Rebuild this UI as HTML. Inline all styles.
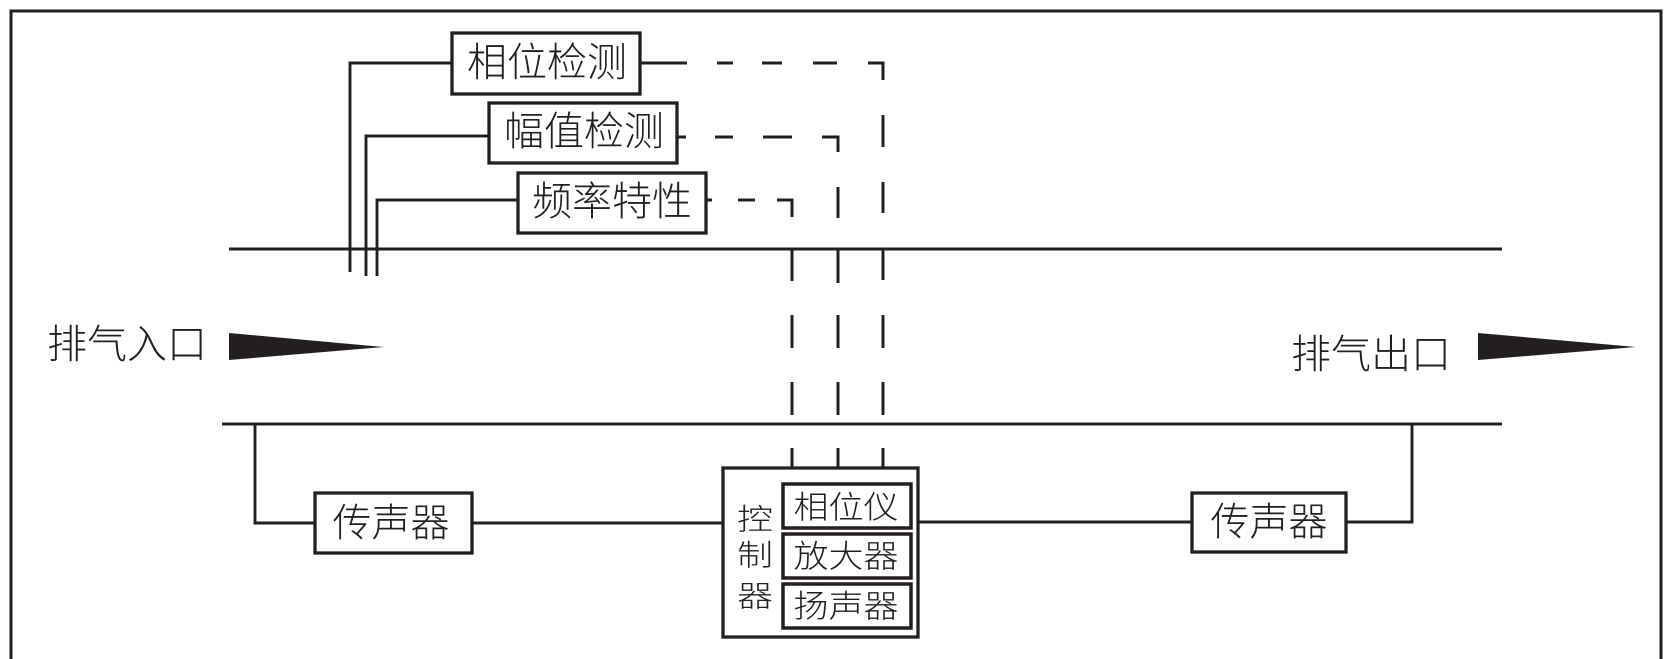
<!DOCTYPE html>
<html><head><meta charset="utf-8"><style>
html,body{margin:0;padding:0;background:#fff;}
svg{display:block;}
text{font-family:"Liberation Sans","Noto Sans CJK SC",sans-serif;font-weight:300;fill:#231f20;}
</style></head><body>
<svg width="1671" height="659" viewBox="0 0 1671 659" xmlns="http://www.w3.org/2000/svg">
<rect width="1671" height="659" fill="#fff"/>
<g stroke="#231f20" fill="none" stroke-linecap="butt">
<!-- frame -->
<path d="M11,670 V11 H1661 V670" stroke-width="3"/>
<!-- pipe -->
<line x1="229" y1="249" x2="1502" y2="249" stroke-width="2.9"/>
<line x1="222" y1="424" x2="1502" y2="424" stroke-width="2.9"/>
<!-- left solid connectors -->
<path d="M350,272 V63 H452" stroke-width="2.9"/>
<path d="M366,276 V136 H489" stroke-width="2.9"/>
<path d="M377,276 V200 H518" stroke-width="2.9"/>
<!-- top boxes -->
<rect x="452" y="33" width="188" height="61" stroke-width="3.3"/>
<rect x="489" y="103" width="188" height="60" stroke-width="3.3"/>
<rect x="518" y="173" width="188" height="60" stroke-width="3.3"/>
<!-- dashed -->
<g stroke-width="3">
<line x1="640" y1="63" x2="687" y2="63"/>
<line x1="717" y1="63" x2="733" y2="63"/>
<line x1="762" y1="63" x2="782" y2="63"/>
<line x1="813" y1="63" x2="837" y2="63"/>
<path d="M868,63 H883 V80"/>
<line x1="883" y1="115" x2="883" y2="147"/>
<line x1="883" y1="182" x2="883" y2="213"/>
<line x1="883" y1="249" x2="883" y2="280"/>
<line x1="883" y1="315" x2="883" y2="348"/>
<line x1="883" y1="382" x2="883" y2="415"/>
<line x1="883" y1="448" x2="883" y2="468"/>
<line x1="677" y1="137" x2="686" y2="137"/>
<line x1="715" y1="137" x2="733" y2="137"/>
<line x1="763" y1="137" x2="792" y2="137"/>
<path d="M822,137 H838 V152"/>
<line x1="838" y1="187" x2="838" y2="218"/>
<line x1="838" y1="249" x2="838" y2="283"/>
<line x1="838" y1="315" x2="838" y2="348"/>
<line x1="838" y1="382" x2="838" y2="415"/>
<line x1="838" y1="448" x2="838" y2="468"/>
<line x1="706" y1="200" x2="712" y2="200"/>
<line x1="738" y1="200" x2="755" y2="200"/>
<path d="M777,200 H792 V217"/>
<line x1="792" y1="249" x2="792" y2="281"/>
<line x1="792" y1="315" x2="792" y2="348"/>
<line x1="792" y1="382" x2="792" y2="415"/>
<line x1="792" y1="448" x2="792" y2="468"/>
</g>
<!-- bottom circuit -->
<path d="M255,424 V523 H315" stroke-width="2.9"/>
<rect x="315" y="493" width="157" height="60" stroke-width="3.3"/>
<line x1="472" y1="523" x2="723" y2="523" stroke-width="2.9"/>
<rect x="723" y="468" width="195" height="169" stroke-width="3.3"/>
<rect x="783" y="484" width="128" height="44" stroke-width="3.5"/>
<rect x="783" y="534" width="128" height="44" stroke-width="3.5"/>
<rect x="783" y="584" width="128" height="44" stroke-width="3.5"/>
<line x1="918" y1="522" x2="1192" y2="522" stroke-width="2.9"/>
<rect x="1192" y="493" width="154" height="59" stroke-width="3.3"/>
<path d="M1346,522 H1412 V424" stroke-width="2.9"/>
</g>
<!-- wedges -->
<polygon points="229,333 384,347 229,360" fill="#231f20"/>
<polygon points="1478,333 1636,347 1478,360" fill="#231f20"/>
<!-- texts -->
<g dominant-baseline="central" text-anchor="middle">
<text x="127" y="345" font-size="40">排气入口</text>
<text x="1371" y="355" font-size="40">排气出口</text>
<text x="547" y="63" font-size="40">相位检测</text>
<text x="584" y="132" font-size="40">幅值检测</text>
<text x="612" y="202" font-size="40">频率特性</text>
<text x="391" y="524" font-size="39">传声器</text>
<text x="1269" y="523" font-size="39">传声器</text>
<g transform="translate(755,519) scale(1,0.82)"><text x="0" y="0" font-size="36">控</text></g>
<g transform="translate(755,555) scale(1,0.82)"><text x="0" y="0" font-size="36">制</text></g>
<g transform="translate(755,596) scale(1,0.82)"><text x="0" y="0" font-size="36">器</text></g>
<g transform="translate(846,508) scale(1,0.9)"><text x="0" y="0" font-size="35">相位仪</text></g>
<g transform="translate(846,557) scale(1,0.9)"><text x="0" y="0" font-size="35">放大器</text></g>
<g transform="translate(846,607) scale(1,0.9)"><text x="0" y="0" font-size="35">扬声器</text></g>
</g>
</svg>
</body></html>
